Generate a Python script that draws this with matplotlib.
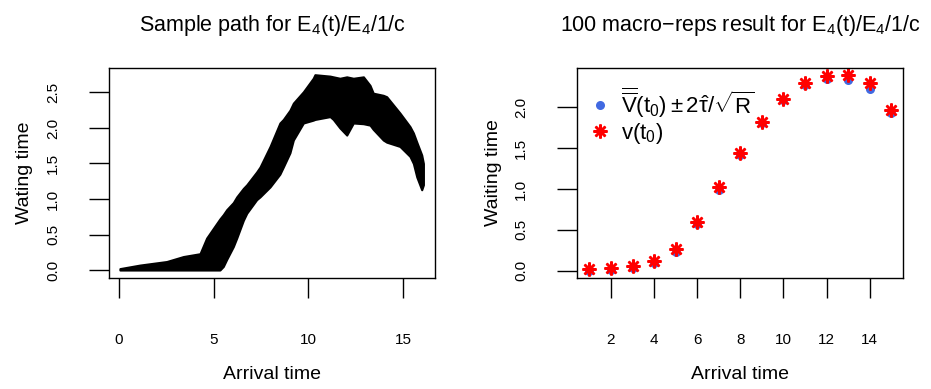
import matplotlib
matplotlib.use("Agg")
import matplotlib.pyplot as plt
from matplotlib.lines import Line2D

plt.rcParams.update({
    "font.family": ["Liberation Sans", "DejaVu Sans"],
    "mathtext.fontset": "custom",
    "mathtext.rm": "Liberation Sans",
    "mathtext.it": "Liberation Sans:italic",
    "mathtext.bf": "Liberation Sans:bold",
    "axes.linewidth": 1.0,
})

# ---- left panel: sample path, read as lower/upper envelope of the point cloud ----
path_x = [0.05, 1.11, 2.52, 3.40, 4.28, 4.63, 5.07, 5.33, 5.51, 5.69, 6.04,
          6.22, 6.57, 6.75, 7.27, 7.45, 7.98, 8.50, 8.68, 9.03, 9.21, 9.74,
          10.26, 10.35, 11.15, 11.32, 11.67, 12.03, 12.38, 12.91, 13.26,
          13.43, 13.96, 14.14, 14.84, 15.37, 15.55, 15.73, 15.99, 16.08]
path_lo = [0.00, 0.00, 0.00, 0.00, 0.00, 0.00, 0.00, 0.00, 0.05, 0.15, 0.33,
           0.45, 0.70, 0.80, 0.99, 1.03, 1.17, 1.35, 1.45, 1.65, 1.83, 2.07,
           2.11, 2.12, 2.16, 2.12, 2.00, 1.90, 2.07, 2.06, 2.04,
           1.98, 1.83, 1.80, 1.74, 1.60, 1.50, 1.31, 1.13, 1.20]
path_hi = [0.02, 0.07, 0.12, 0.19, 0.23, 0.45, 0.62, 0.72, 0.78, 0.85, 0.95,
           1.03, 1.15, 1.20, 1.38, 1.45, 1.74, 2.07, 2.12, 2.25, 2.35, 2.51,
           2.70, 2.75, 2.73, 2.72, 2.70, 2.72, 2.70, 2.72, 2.60,
           2.49, 2.46, 2.44, 2.21, 2.02, 1.93, 1.80, 1.62, 1.50]

# ---- right panel: 100 macro-reps ----
t0 = list(range(1, 16))
vbar = [0.00, 0.01, 0.033, 0.09, 0.233, 0.57, 0.99, 1.42, 1.81, 2.095,
        2.28, 2.35, 2.34, 2.23, 1.93]
v_true = [0.017, 0.03, 0.058, 0.12, 0.266, 0.60, 1.02, 1.44, 1.82, 2.107,
          2.295, 2.39, 2.40, 2.30, 1.963]

TICK = dict(direction="out", length=14.5, width=1.0, labelsize=11)


def style_axes(ax):
    ax.tick_params(axis="y", pad=21, labelrotation=90, **TICK)
    ax.tick_params(axis="x", pad=25, **TICK)
    for lab in ax.get_yticklabels():
        lab.set_va("center")
    ax.set_xlabel("Arrival time", fontsize=14, labelpad=14)


fig = plt.figure(figsize=(9.31, 3.89), dpi=100)
ax1 = fig.add_axes([0.1174, 0.2861, 0.3498, 0.5383])
ax2 = fig.add_axes([0.6201, 0.2861, 0.3502, 0.5383])

# left
ax1.fill_between(path_x, path_lo, path_hi, color="black", lw=1.5,
                 edgecolor="black")
ax1.set_xlim(-0.51, 16.69)
ax1.set_ylim(-0.108, 2.84)
ax1.set_xticks([0, 5, 10, 15])
ax1.set_yticks([0.0, 0.5, 1.0, 1.5, 2.0, 2.5])
ax1.set_yticklabels(["0.0", "0.5", "1.0", "1.5", "2.0", "2.5"])
ax1.set_ylabel("Wating time", fontsize=14, labelpad=9)
ax1.set_title(r"Sample path for $\mathrm{E_4(t)/E_4/1/c}$", fontsize=15.5, pad=27)
style_axes(ax1)

# right
ax2.plot(t0, vbar, ls="none", marker="o", ms=6.5, color="#4169E1", mec="none")
ax2.plot(t0, v_true, ls="none", marker=(8, 2, 0), ms=10, color="red", mew=1.8)
ax2.set_xlim(0.44, 15.56)
ax2.set_ylim(-0.086, 2.48)
ax2.set_xticks([2, 4, 6, 8, 10, 12, 14])
ax2.set_yticks([0.0, 0.5, 1.0, 1.5, 2.0])
ax2.set_yticklabels(["0.0", "0.5", "1.0", "1.5", "2.0"])
ax2.set_ylabel("Waiting time", fontsize=14, labelpad=9)
ax2.set_title(r"100 macro$-$reps result for $\mathrm{E_4(t)/E_4/1/c}$",
              fontsize=15.5, pad=27)
style_axes(ax2)

handles = [
    Line2D([0], [0], ls="none", marker="o", ms=6.5, color="#4169E1", mec="none"),
    Line2D([0], [0], ls="none", marker=(8, 2, 0), ms=10, color="red", mew=1.8),
]
labels = [r"$\overline{\overline{\mathrm{V}}}\mathrm{(t_0)} \pm 2\hat{\mathrm{\tau}}/\sqrt{\mathrm{R}}$",
          r"$\mathrm{v(t_0)}$"]
ax2.legend(handles, labels, loc="upper left", bbox_to_anchor=(-0.012, 0.995),
           frameon=False, fontsize=16, handlelength=1.0, handletextpad=0.45,
           labelspacing=0.05, borderaxespad=0.3)

fig.savefig("out.png", dpi=100, facecolor="white")
